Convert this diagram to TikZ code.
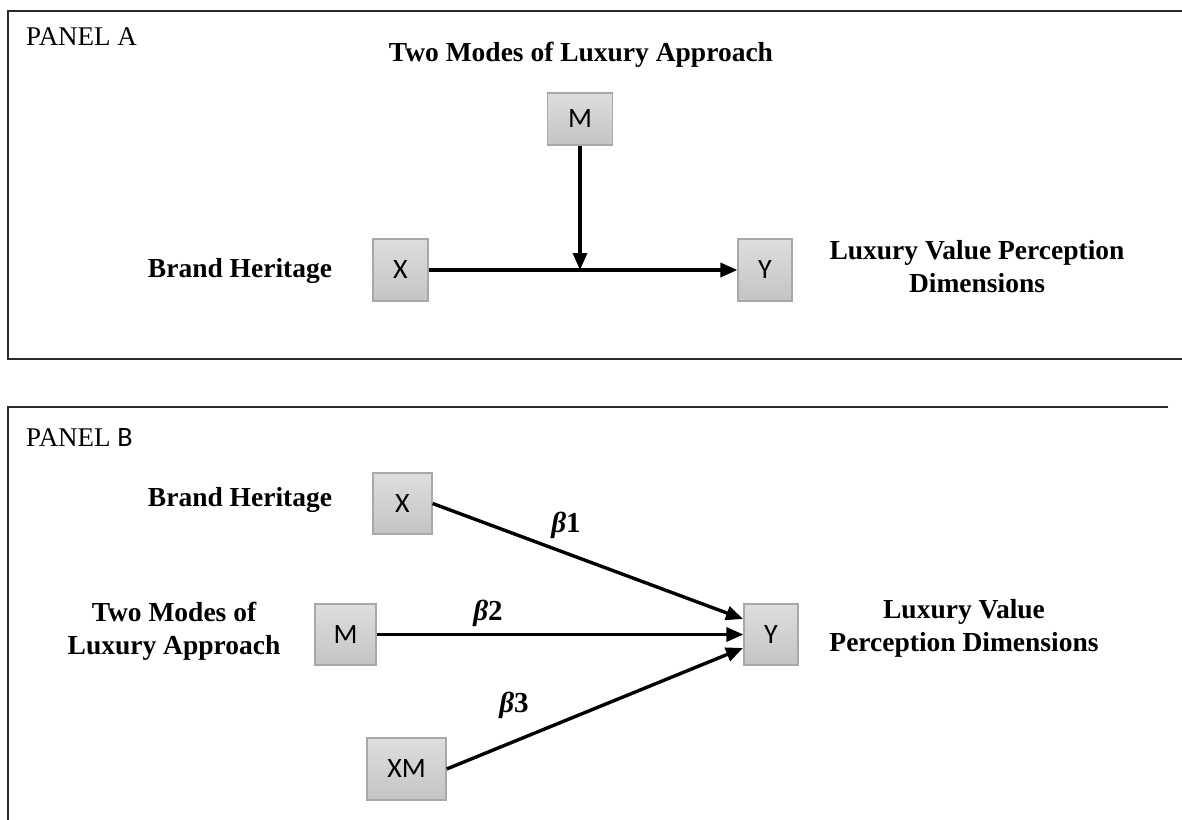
\documentclass[tikz,border=0pt]{standalone}
\usepackage{fontspec}
\setmainfont{Liberation Serif}
\newfontfamily\boxfont{Carlito}
\usetikzlibrary{arrows.meta}
\definecolor{framecol}{HTML}{2B2B2B}
\definecolor{boxtop}{HTML}{DEDEDE}
\definecolor{boxbot}{HTML}{C4C4C4}
\definecolor{boxline}{HTML}{A8A8A8}
\newcommand{\bcoef}[1]{{\bfseries\itshape β}{\bfseries #1}}
\begin{document}
\begin{tikzpicture}[x=1pt,y=-1pt,
  var/.style={draw=boxline,line width=1.3pt,top color=boxtop,bottom color=boxbot,
    inner sep=0pt,font=\boxfont\fontsize{28}{30}\selectfont,text=black},
  lbl/.style={font=\bfseries\fontsize{27.5}{33}\selectfont,align=center,inner sep=0pt},
  panel/.style={font=\fontsize{27}{30}\selectfont,anchor=west,inner sep=0pt},
  beta/.style={font=\fontsize{29}{31}\selectfont,inner sep=0pt},
  frame/.style={draw=framecol,line width=2.6pt},
  arr/.style={line width=3.4pt,-{Triangle[length=17pt,width=14pt]}}]
\useasboundingbox (0,0) rectangle (1182,819);
\fill[white] (0,0) rectangle (1182,819);
% ---------------- Panel A
\draw[frame] (8,11) rectangle (1190,359);
\node[panel] (pa) at (26,37) {PANEL A};
\node[lbl] (tA) at (581,55) {Two Modes of Luxury Approach};
\node[var,minimum width=65pt,minimum height=52pt] (Ma) at (580,119) {M};
\node[var,minimum width=55pt,minimum height=62pt] (Xa) at (400.5,270) {X};
\node[var,minimum width=54pt,minimum height=62pt] (Ya) at (765,270) {Y};
\node[lbl] (bhA) at (240,271) {Brand Heritage};
\node[lbl] (lvA) at (977,267) {Luxury Value Perception\\Dimensions};
\coordinate (midA) at (580,270);
\draw[arr] (Xa.east) -- (Ya.west);
\draw[arr] (Ma.south) -- (midA);
% ---------------- Panel B
\draw[frame] (1168,407) -- (8,407) -- (8,830);
\node[panel] (pb) at (26,438) {PANEL {\boxfont\fontsize{28}{30}\selectfont B}};
\node[var,minimum width=59pt,minimum height=61pt] (Xb) at (402.5,503.5) {X};
\node[var,minimum width=61pt,minimum height=61pt] (Mb) at (345.5,634.5) {M};
\node[var,minimum width=79pt,minimum height=62pt] (XMb) at (406.5,769) {XM};
\node[var,minimum width=54pt,minimum height=61pt] (Yb) at (771,634.5) {Y};
\node[lbl] (bhB) at (240,500) {Brand Heritage};
\node[lbl] (tmB) at (174,631) {Two Modes of\\Luxury Approach};
\node[lbl] (lvB) at (964,628) {Luxury Value\\Perception Dimensions};
\coordinate (Yin1) at (743,619);
\coordinate (Yin3) at (743,648);
\draw[arr] (Xb.east) -- (Yin1);
\draw[arr] (Mb.east) -- (Yb.west);
\draw[arr] (XMb.east) -- (Yin3);
\node[beta] (b1) at (566,525) {\bcoef{1}};
\node[beta] (b2) at (488,613) {\bcoef{2}};
\node[beta] (b3) at (514,705) {\bcoef{3}};
\end{tikzpicture}
\end{document}
